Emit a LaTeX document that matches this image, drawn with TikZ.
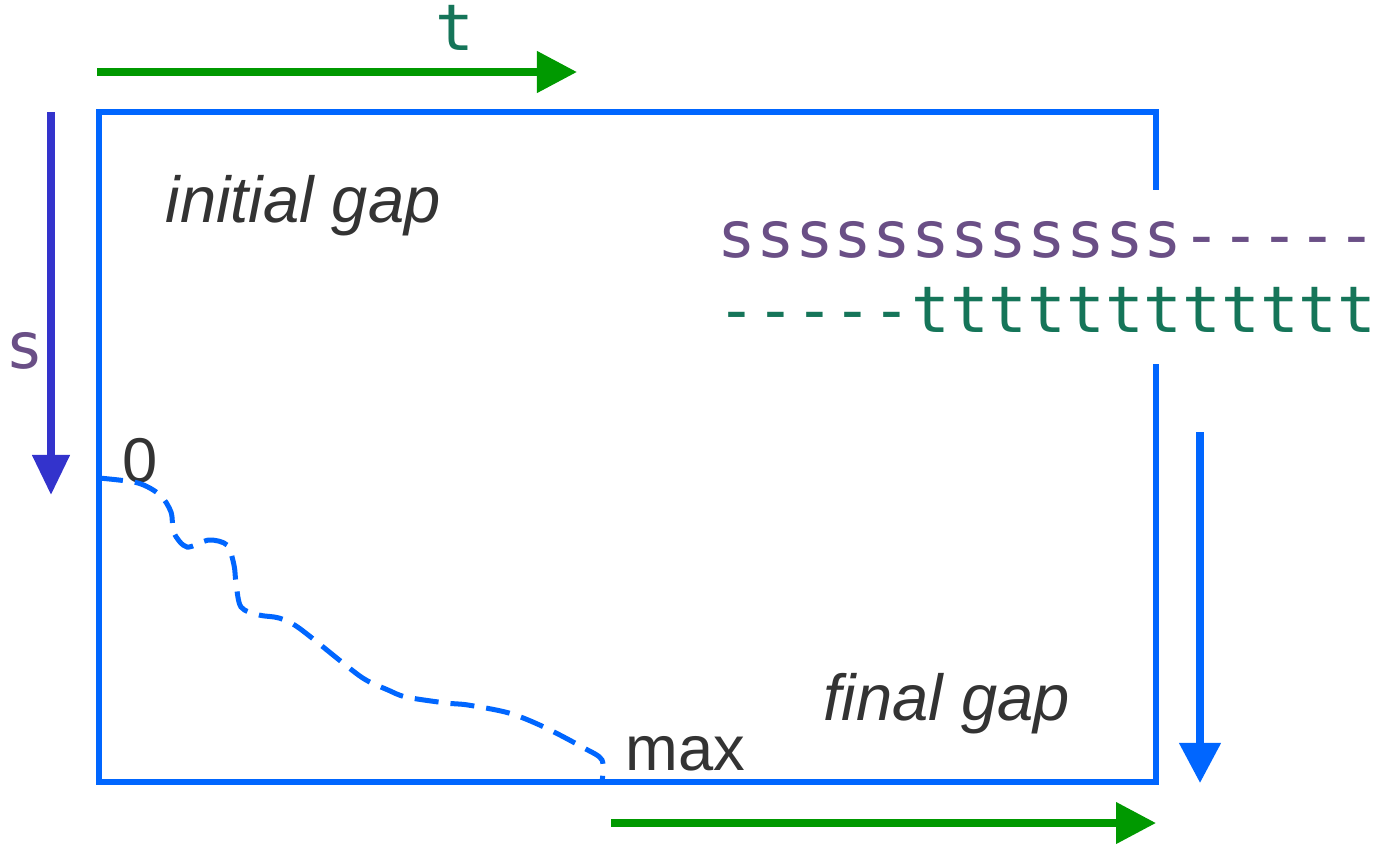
\documentclass[tikz,border=0pt]{standalone}
\usepackage{fontspec}
\setmainfont{Liberation Sans}
\newfontfamily\seqfont{DejaVu Sans Mono}
\usetikzlibrary{arrows.meta}

\definecolor{rectblue}{HTML}{0066FF}
\definecolor{axgreen}{HTML}{009900}
\definecolor{sblue}{HTML}{3333CC}
\definecolor{spurple}{HTML}{6A4F86}
\definecolor{tteal}{HTML}{157559}
\definecolor{labelgray}{HTML}{333333}

\begin{document}
\begin{tikzpicture}[x=0.01cm, y=-0.01cm,
    axis/.style={line width=0.075cm, -{Triangle[length=0.4cm, width=0.4cm]}},
    seq/.style={inner sep=0pt, font=\seqfont\fontsize{18.3pt}{21.3pt}\selectfont},
    lbl/.style={text=labelgray, inner sep=0pt, font=\fontsize{18pt}{21pt}\selectfont}]
    \useasboundingbox (0,0) rectangle (1380,845);

    % alignment matrix
    \draw[rectblue, line width=0.06cm] (99,112) rectangle (1156,782);

    \node[seq, fill=white, align=left, minimum height=1.73cm] (pair) at (1047,277)
        {\textcolor{spurple}{ssssssssssss-----}\\\textcolor{tteal}{-----tttttttttttt}};

    \node[lbl, anchor=base west, font=\fontsize{18.5pt}{22pt}\selectfont\itshape] (init) at (165,222) {initial gap};
    \node[lbl, anchor=base west, font=\fontsize{18.5pt}{22pt}\selectfont\itshape] (final) at (823,720) {final gap};
    \node[lbl, anchor=base west] (zero) at (122,482) {0};
    \node[lbl, anchor=base west] (max) at (625,770) {max};

    \node[seq, text=tteal, anchor=base] (t) at (455,50) {t};
    \node[seq, text=spurple, anchor=base] (s) at (25,368) {s};

    % axes
    \coordinate (t0) at (97,72);
    \coordinate (t1) at (577,72);
    \coordinate (s0) at (51,112);
    \coordinate (s1) at (51,495);
    \coordinate (b0) at (611,823);
    \coordinate (b1) at (1156,823);
    \coordinate (r0) at (1200,432);
    \coordinate (r1) at (1200,783);

    \draw[axis, axgreen] (t0) -- (t1);
    \draw[axis, sblue, -{Triangle[length=0.4cm, width=0.36cm]}] (s0) -- (s1);
    \draw[axis, axgreen] (b0) -- (b1);
    \draw[axis, rectblue] (r0) -- (r1);

    % score path
    \draw[rectblue, line width=0.05cm, dash pattern=on 0.24cm off 0.12cm]
        plot[smooth, tension=0.5] coordinates {(99,478) (138,483) (160,495) (171,512) (174,533)
        (187,547) (209,540) (227,545) (234,565) (236,583) (241,607) (259,615) (279,618)
        (299,628) (348,667) (366,680) (388,690) (406,697) (446,703) (468,705) (509,713)
        (544,727) (584,748) (602,760) (602,782)};
\end{tikzpicture}
\end{document}
